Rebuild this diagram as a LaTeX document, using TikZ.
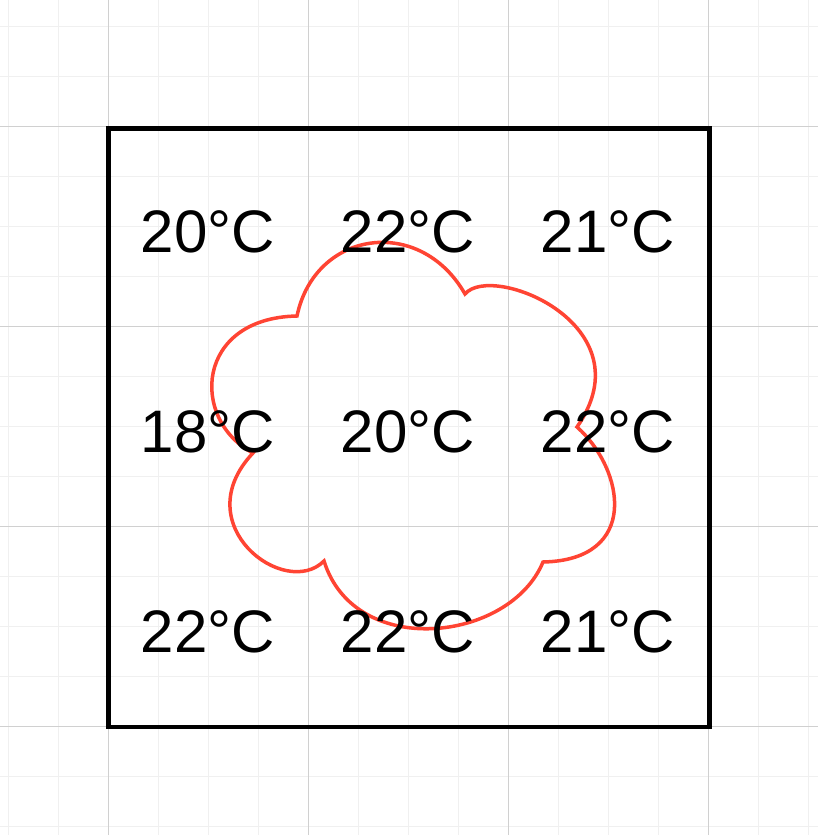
\documentclass[tikz,border=0pt]{standalone}
\usepackage{fontspec}
\setmainfont{Liberation Sans}
\definecolor{cloudred}{RGB}{255,68,51}
\definecolor{minorgrid}{RGB}{240,240,240}
\definecolor{majorgrid}{RGB}{208,208,208}
\begin{document}
\begin{tikzpicture}[x=1pt,y=-1pt,
  temp/.style={anchor=base,inner sep=0pt,font=\fontsize{60}{72}\selectfont},
  minorline/.style={draw=minorgrid,line width=1pt},
  majorline/.style={draw=majorgrid,line width=1pt},
  frame/.style={draw=black,line width=4.5pt},
  cloudline/.style={draw=cloudred,line width=3.5pt,line join=miter}]
\useasboundingbox[fill=white] (0,0) rectangle (818,835);
% grid
\foreach \i in {0,...,16} {\draw[minorline] (8+50*\i,0) -- (8+50*\i,835);}
\foreach \i in {0,...,16} {\draw[minorline] (0,26+50*\i) -- (818,26+50*\i);}
\foreach \i in {0,...,3} {\draw[majorline] (108+200*\i,0) -- (108+200*\i,835);}
\foreach \i in {0,...,3} {\draw[majorline] (0,126+200*\i) -- (818,126+200*\i);}
% frame
\draw[frame] (108.7,128.5) rectangle (709.3,727);
% cloud
\coordinate (c1) at (297,316);
\coordinate (c2) at (465,294);
\coordinate (c3) at (577,427);
\coordinate (c4) at (543,562);
\coordinate (c5) at (324,561);
\coordinate (c6) at (253,453);
\draw[cloudline] (c1) .. controls (315,230) and (420,215) .. (c2)
  .. controls (492,262) and (648,325) .. (c3)
  .. controls (625,470) and (640,560) .. (c4)
  .. controls (510,642) and (355,660) .. (c5)
  .. controls (285,600) and (185,525) .. (c6)
  .. controls (190,420) and (195,318) .. (c1) -- cycle;
% temperatures
\node[temp] (t11) at (208,252) {20°C};
\node[temp] (t12) at (408,252) {22°C};
\node[temp] (t13) at (608,252) {21°C};
\node[temp] (t21) at (208,452) {18°C};
\node[temp] (t22) at (408,452) {20°C};
\node[temp] (t23) at (608,452) {22°C};
\node[temp] (t31) at (208,652) {22°C};
\node[temp] (t32) at (408,652) {22°C};
\node[temp] (t33) at (608,652) {21°C};
\end{tikzpicture}
\end{document}
